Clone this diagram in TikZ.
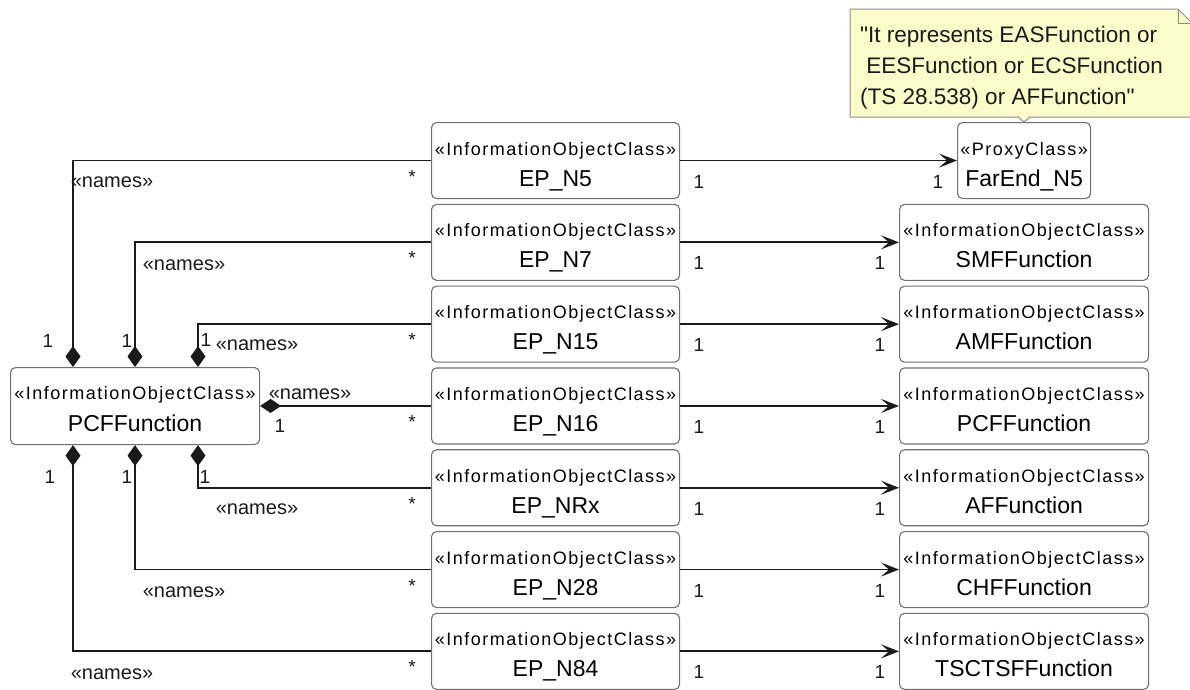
\documentclass[tikz,border=0pt]{standalone}
\usepackage{fontspec}
\setmainfont{Liberation Sans}
\newfontfamily\stereofam[LetterSpace=8.3]{Liberation Sans}
\newfontfamily\notefam[Ligatures=TeXOff]{Liberation Sans}
\usetikzlibrary{arrows.meta,calc}
\definecolor{boxgray}{HTML}{707070}
\definecolor{linecol}{HTML}{1A1A1A}
\definecolor{noteyellow}{HTML}{FCFCCB}
\definecolor{notegray}{HTML}{8C8C8C}
\tikzset{
  umlbox/.style={draw=boxgray, line width=1.1pt, rounded corners=5pt, fill=white,
    minimum height=76pt, inner sep=0pt, anchor=north west},
  stereotxt/.style={font=\stereofam\fontsize{18}{20}\selectfont, anchor=base, inner sep=0pt},
  nametxt/.style={font=\fontsize{23}{26}\selectfont, anchor=base, inner sep=0pt},
  conn/.style={line width=1.8pt, draw=linecol},
  comp/.style={conn, -{Diamond[length=21pt,width=15pt,fill=linecol]}},
  compside/.style={conn, -{Diamond[length=21pt,width=14pt,fill=linecol]}},
  nav/.style={conn, -{Stealth[length=18pt,width=14pt,inset=8pt]}},
  lbl/.style={font=\fontsize{20}{22}\selectfont, inner sep=0pt, text=linecol},
  mult/.style={font=\fontsize{19}{22}\selectfont, inner sep=0pt, text=linecol},
  notetxt/.style={font=\notefam\fontsize{22.5}{31}\selectfont, align=left, inner sep=0pt, anchor=west, text=linecol},
}
% #1 name, #2 x, #3 top y, #4 width, #5 stereotype, #6 title
\newcommand\umlclass[6]{%
  \node[umlbox, minimum width=#4] (#1) at (#2,#3) {};
  \node[stereotxt] (#1-s) at ([yshift=-33pt]#1.north) {«#5»};
  \node[nametxt] (#1-t) at ([yshift=-64pt]#1.north) {#6};
}
\begin{document}
\begin{tikzpicture}[x=1pt,y=-1pt]
\useasboundingbox (0,0) rectangle (1190,689);
\clip (0,0) rectangle (1190,689);

% note
\path[draw=notegray, fill=noteyellow, line width=1pt]
  (850,9) -- (1178,9) -- (1192,23) -- (1192,117) -- (1030,117) -- (1024,122) -- (1018,117) -- (850,117) -- cycle;
\draw[notegray, line width=1pt] (1178,9) -- (1178,23) -- (1192,23);
\node[notetxt] (notetext) at (860,68) {"It represents EASFunction or\\\ EESFunction or ECSFunction\\(TS 28.538) or AFFunction"};

% PCFFunction
\node[umlbox, minimum width=249pt, minimum height=77pt] (pcf) at (10,367) {};
\node[stereotxt] (pcf-s) at ([yshift=-32pt]pcf.north) {«InformationObjectClass»};
\node[nametxt] (pcf-t) at ([yshift=-64pt]pcf.north) {PCFFunction};

% EP boxes
\umlclass{ep5}{431}{122}{248pt}{InformationObjectClass}{EP\_N5}
\umlclass{ep7}{431}{203.8}{248pt}{InformationObjectClass}{EP\_N7}
\umlclass{ep15}{431}{285.6}{248pt}{InformationObjectClass}{EP\_N15}
\umlclass{ep16}{431}{367.4}{248pt}{InformationObjectClass}{EP\_N16}
\umlclass{epnrx}{431}{449.2}{248pt}{InformationObjectClass}{EP\_NRx}
\umlclass{ep28}{431}{531}{248pt}{InformationObjectClass}{EP\_N28}
\umlclass{ep84}{431}{612.8}{248pt}{InformationObjectClass}{EP\_N84}

% right boxes
\umlclass{farend}{957}{122}{133pt}{ProxyClass}{FarEnd\_N5}
\umlclass{smf}{899}{203.8}{249pt}{InformationObjectClass}{SMFFunction}
\umlclass{amf}{899}{285.6}{249pt}{InformationObjectClass}{AMFFunction}
\umlclass{pcfr}{899}{367.4}{249pt}{InformationObjectClass}{PCFFunction}
\umlclass{af}{899}{449.2}{249pt}{InformationObjectClass}{AFFunction}
\umlclass{chf}{899}{531}{249pt}{InformationObjectClass}{CHFFunction}
\umlclass{tsctsf}{899}{612.8}{249pt}{InformationObjectClass}{TSCTSFFunction}

% composition connectors
\draw[comp] (ep5.west) -| ([xshift=63pt]pcf.north west);
\draw[comp] (ep7.west) -| ([xshift=125pt]pcf.north west);
\draw[comp] (ep15.west) -| ([xshift=188pt]pcf.north west);
\draw[compside] (ep16.west) -- (ep16.west -| pcf.east);
\draw[comp] (epnrx.west) -| ([xshift=188pt]pcf.south west);
\draw[comp] (ep28.west) -| ([xshift=125pt]pcf.south west);
\draw[comp] (ep84.west) -| ([xshift=63pt]pcf.south west);

% navigable associations
\draw[nav] (ep5.east) -- (farend.west);
\draw[nav] (ep7.east) -- (smf.west);
\draw[nav] (ep15.east) -- (amf.west);
\draw[nav] (ep16.east) -- (pcfr.west);
\draw[nav] (epnrx.east) -- (af.west);
\draw[nav] (ep28.east) -- (chf.west);
\draw[nav] (ep84.east) -- (tsctsf.west);

% «names» labels
\node[lbl] (n0) at (112,182) {«names»};
\node[lbl] (n1) at (184,265) {«names»};
\node[lbl] (n2) at (257,345) {«names»};
\node[lbl] (n3) at (310,394) {«names»};
\node[lbl] (n4) at (257,509) {«names»};
\node[lbl] (n5) at (184,592) {«names»};
\node[lbl] (n6) at (112,674) {«names»};

% * multiplicities
\node[mult] (s0) at (412,176.5) {*};
\node[mult] (s1) at (412,258.3) {*};
\node[mult] (s2) at (412,340.1) {*};
\node[mult] (s3) at (412,421.9) {*};
\node[mult] (s4) at (412,503.7) {*};
\node[mult] (s5) at (412,585.5) {*};
\node[mult] (s6) at (412,667.3) {*};

% 1 multiplicities at PCFFunction
\node[mult] (t0) at (48,341) {1};
\node[mult] (t1) at (127,341) {1};
\node[mult] (t2) at (206,340) {1};
\node[mult] (t3) at (280,426) {1};
\node[mult] (b4) at (205,477) {1};
\node[mult] (b5) at (127,477) {1};
\node[mult] (b6) at (50,477) {1};

% 1 multiplicities on the right
\node[mult] (r0a) at (699,181.5) {1};
\node[mult] (r0b) at (938,181.5) {1};
\node[mult] (r1a) at (699,263.3) {1};
\node[mult] (r1b) at (880,263.3) {1};
\node[mult] (r2a) at (699,345.1) {1};
\node[mult] (r2b) at (880,345.1) {1};
\node[mult] (r3a) at (699,426.9) {1};
\node[mult] (r3b) at (880,426.9) {1};
\node[mult] (r4a) at (699,508.7) {1};
\node[mult] (r4b) at (880,508.7) {1};
\node[mult] (r5a) at (699,590.5) {1};
\node[mult] (r5b) at (880,590.5) {1};
\node[mult] (r6a) at (699,672.3) {1};
\node[mult] (r6b) at (880,672.3) {1};
\end{tikzpicture}
\end{document}
